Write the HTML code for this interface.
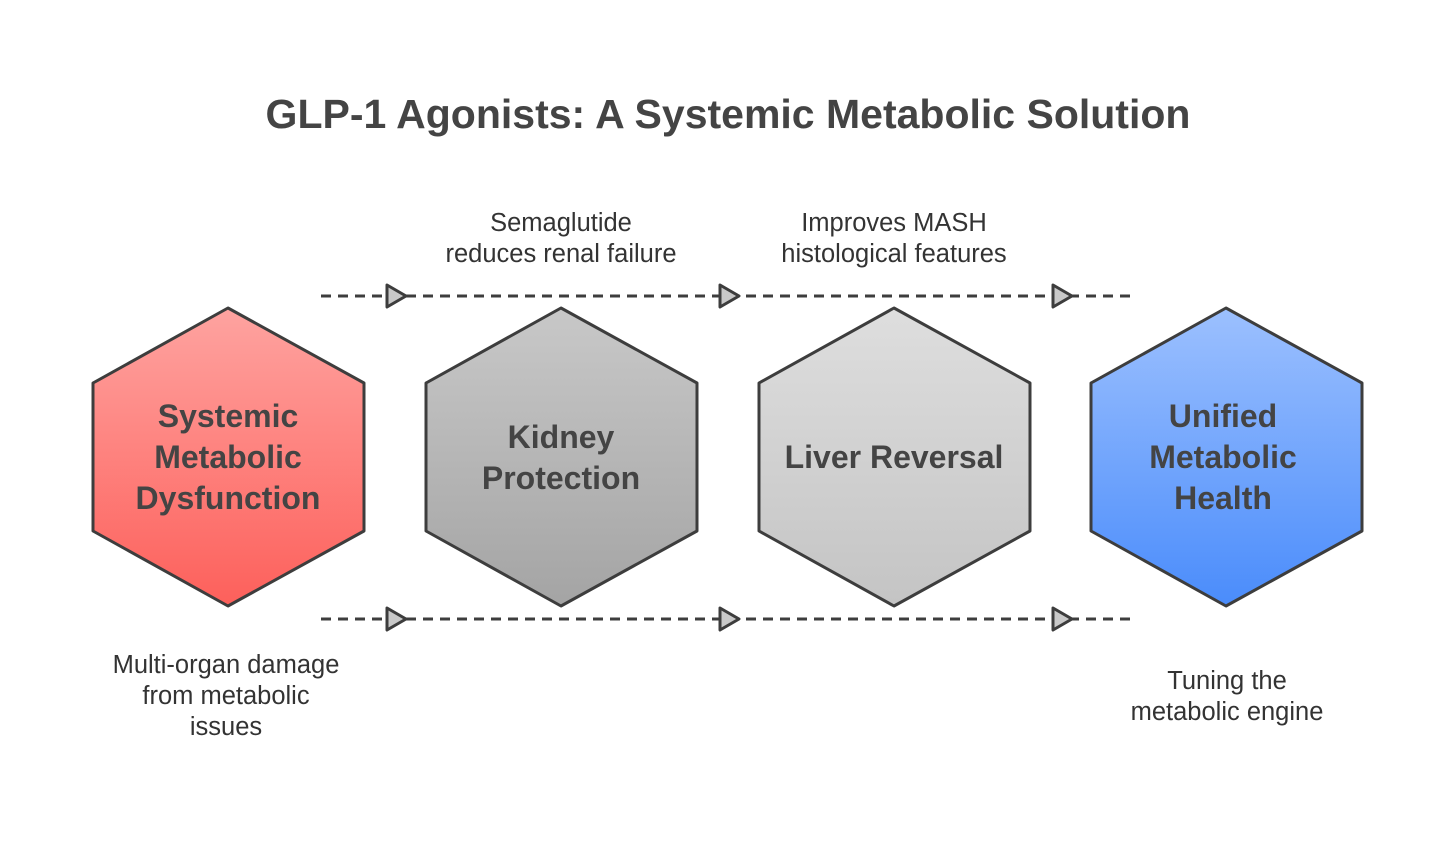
<!DOCTYPE html>
<html><head><meta charset="utf-8"><style>
body{margin:0;background:#fff;width:1456px;height:853px;overflow:hidden}
svg text{font-family:"Liberation Sans",Roboto,sans-serif}
</style></head><body>
<svg width="1456" height="853" viewBox="0 0 1456 853" xmlns="http://www.w3.org/2000/svg">
<defs>
<linearGradient id="gr" x1="0" y1="0" x2="0" y2="1"><stop offset="0" stop-color="#fea3a0"/><stop offset="1" stop-color="#fd605b"/></linearGradient>
<linearGradient id="gg" x1="0" y1="0" x2="0" y2="1"><stop offset="0" stop-color="#c8c8c8"/><stop offset="1" stop-color="#a4a4a4"/></linearGradient>
<linearGradient id="gl" x1="0" y1="0" x2="0" y2="1"><stop offset="0" stop-color="#dedede"/><stop offset="1" stop-color="#c4c4c4"/></linearGradient>
<linearGradient id="gb" x1="0" y1="0" x2="0" y2="1"><stop offset="0" stop-color="#9cc0fe"/><stop offset="1" stop-color="#4a8cfb"/></linearGradient>
</defs>
<text x="728" y="128" text-anchor="middle" font-size="41" font-weight="bold" fill="#444">GLP-1 Agonists: A Systemic Metabolic Solution</text>
<g stroke="#3d3d3d" stroke-width="3" fill="none" stroke-dasharray="10 7">
<line x1="321" y1="296" x2="1135" y2="296"/>
<line x1="321" y1="619" x2="1135" y2="619"/>
</g>
<g stroke="#3d3d3d" stroke-width="3" fill="#c9c9c9" stroke-linejoin="round">
<polygon points="387,285 406,296 387,307"/><polygon points="720,285 739,296 720,307"/><polygon points="1053,285 1072,296 1053,307"/>
<polygon points="387,608 406,619 387,630"/><polygon points="720,608 739,619 720,630"/><polygon points="1053,608 1072,619 1053,630"/>
</g>
<g stroke="#3d3d3d" stroke-width="3" stroke-linejoin="round">
<polygon fill="url(#gr)" points="228,308 364,383 364,531 228,606 93,531 93,383"/>
<polygon fill="url(#gg)" points="561,308 697,383 697,531 561,606 426,531 426,383"/>
<polygon fill="url(#gl)" points="894,308 1030,383 1030,531 894,606 759,531 759,383"/>
<polygon fill="url(#gb)" points="1226,308 1362,383 1362,531 1226,606 1091,531 1091,383"/>
</g>
<g font-size="32" font-weight="bold" fill="#444" text-anchor="middle">
<text x="228" y="427">Systemic</text><text x="228" y="468">Metabolic</text><text x="228" y="509">Dysfunction</text>
<text x="561" y="448">Kidney</text><text x="561" y="489">Protection</text>
<text x="894" y="468">Liver Reversal</text>
<text x="1223" y="427">Unified</text><text x="1223" y="468">Metabolic</text><text x="1223" y="509">Health</text>
</g>
<g font-size="25.5" fill="#333" text-anchor="middle">
<text x="561" y="231">Semaglutide</text><text x="561" y="262">reduces renal failure</text>
<text x="894" y="231">Improves MASH</text><text x="894" y="262">histological features</text>
<text x="226" y="673">Multi-organ damage</text><text x="226" y="704">from metabolic</text><text x="226" y="735">issues</text>
<text x="1227" y="689">Tuning the</text><text x="1227" y="720">metabolic engine</text>
</g>
</svg>
</body></html>
